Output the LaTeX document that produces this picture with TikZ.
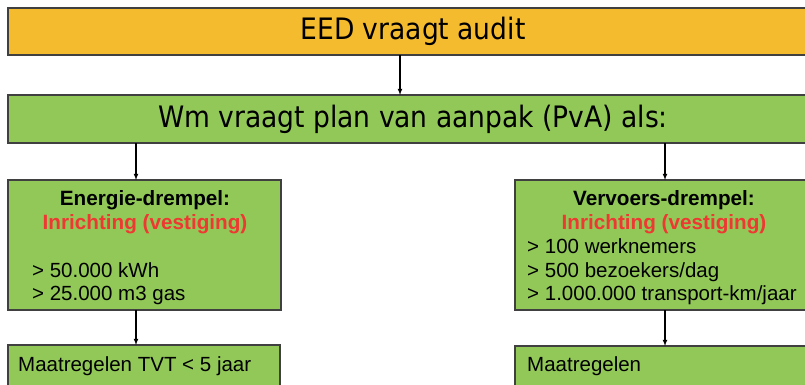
\documentclass[tikz,border=0pt]{standalone}
\usepackage{fontspec}
\setmainfont{Liberation Sans}
\newfontfamily\kopfont{DejaVu Sans Condensed}
\definecolor{oranje}{RGB}{245,187,46}
\definecolor{groen}{RGB}{146,200,88}
\definecolor{rood}{RGB}{238,56,50}
\definecolor{rand}{RGB}{64,64,64}

\begin{document}
\begin{tikzpicture}[x=1pt,y=-1pt,>=latex]
\tikzstyle{box}=[draw=rand,line width=1.1pt,anchor=north west,inner sep=0,outer sep=0]
\tikzstyle{kop}=[font=\kopfont\fontsize{29.5}{31}\selectfont]
\tikzstyle{tekst}=[font=\fontsize{20.5}{23}\selectfont,inner sep=0,anchor=base west]
\tikzstyle{vet}=[font=\fontsize{20.7}{23}\selectfont\bfseries,inner sep=0,anchor=base]
\tikzstyle{pijl}=[->,line width=1.1pt]
\useasboundingbox (0,0) rectangle (805,385);
\clip (0,0) rectangle (805,385);
% bovenste balken
\node[box,kop,fill=oranje,minimum width=810,minimum height=47] (eed) at (8,8) {EED vraagt audit};
\node[box,kop,fill=groen,minimum width=810,minimum height=48] (wm) at (8,95) {Wm vraagt plan van aanpak (PvA) als:};
% drempels
\node[box,fill=groen,minimum width=273,minimum height=130] (energie) at (8,180) {};
\node[box,fill=groen,minimum width=300,minimum height=130] (vervoer) at (515,180) {};
\node[vet] (energieKop) at (145,205) {Energie-drempel:};
\node[vet,text=rood] (energieInr) at (145,229) {Inrichting (vestiging)};
\node[tekst] (kwh) at (32,277) {> 50.000 kWh};
\node[tekst] (gas) at (32,300) {> 25.000 m3 gas};
\node[vet] (vervoerKop) at (664,205) {Vervoers-drempel:};
\node[vet,text=rood] (vervoerInr) at (664,229) {Inrichting (vestiging)};
\node[tekst] (werk) at (527,253) {> 100 werknemers};
\node[tekst] (bezoek) at (527,277) {> 500 bezoekers/dag};
\node[tekst] (transport) at (527,300) {> 1.000.000 transport-km/jaar};
% maatregelen
\node[box,fill=groen,minimum width=272,minimum height=60] (maatE) at (8,345) {};
\node[box,fill=groen,minimum width=300,minimum height=60] (maatV) at (515,346) {};
\node[tekst] (tvt) at (18,371) {Maatregelen TVT < 5 jaar};
\node[tekst] (maat) at (527,371) {Maatregelen};
% pijlen
\coordinate (links) at (136,0);
\coordinate (rechts) at (665,0);
\draw[pijl] (eed.south -| 400,0) -- (wm.north -| 400,0);
\draw[pijl] (links |- wm.south) -- (links |- energie.north);
\draw[pijl] (rechts |- wm.south) -- (rechts |- vervoer.north);
\draw[pijl] (links |- energie.south) -- (links |- maatE.north);
\draw[pijl] (rechts |- vervoer.south) -- (rechts |- maatV.north);
\end{tikzpicture}
\end{document}
